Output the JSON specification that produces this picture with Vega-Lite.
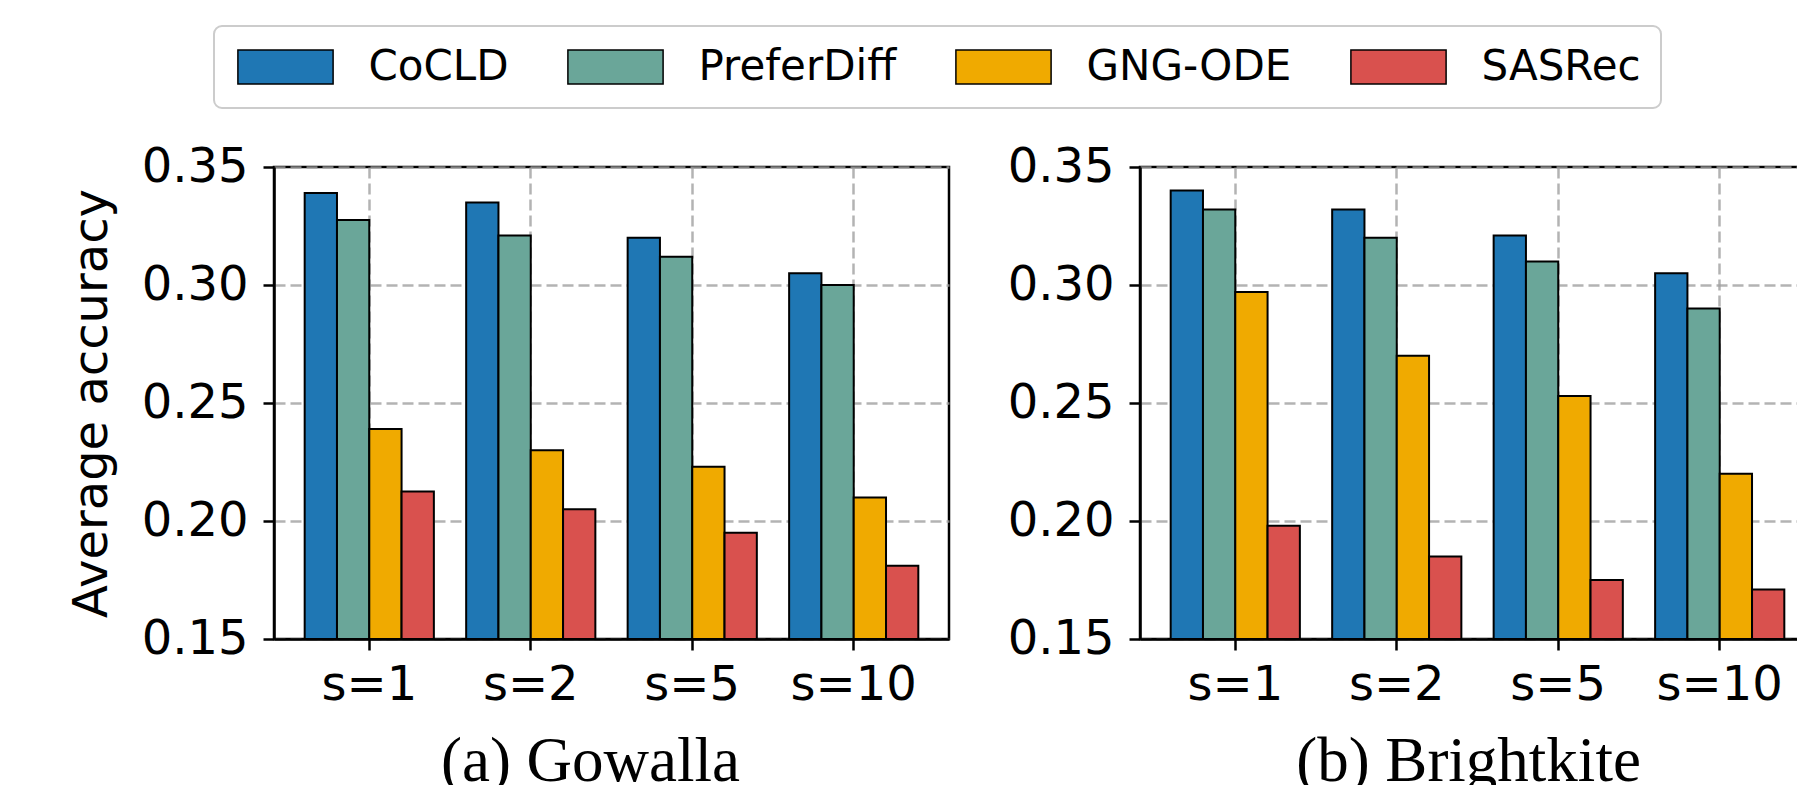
{
  "$schema": "https://vega.github.io/schema/vega-lite/v6.json",
  "background": "white",
  "padding": {"left": 66, "top": 25, "right": 0, "bottom": 0},
  "datasets": {
    "gowalla": [
      {"s": "s=1", "model": "CoCLD", "value": 0.339},
      {"s": "s=1", "model": "PreferDiff", "value": 0.3275},
      {"s": "s=1", "model": "GNG-ODE", "value": 0.239},
      {"s": "s=1", "model": "SASRec", "value": 0.2125},
      {"s": "s=2", "model": "CoCLD", "value": 0.335},
      {"s": "s=2", "model": "PreferDiff", "value": 0.321},
      {"s": "s=2", "model": "GNG-ODE", "value": 0.230},
      {"s": "s=2", "model": "SASRec", "value": 0.205},
      {"s": "s=5", "model": "CoCLD", "value": 0.320},
      {"s": "s=5", "model": "PreferDiff", "value": 0.312},
      {"s": "s=5", "model": "GNG-ODE", "value": 0.223},
      {"s": "s=5", "model": "SASRec", "value": 0.195},
      {"s": "s=10", "model": "CoCLD", "value": 0.305},
      {"s": "s=10", "model": "PreferDiff", "value": 0.300},
      {"s": "s=10", "model": "GNG-ODE", "value": 0.210},
      {"s": "s=10", "model": "SASRec", "value": 0.181}
    ],
    "brightkite": [
      {"s": "s=1", "model": "CoCLD", "value": 0.340},
      {"s": "s=1", "model": "PreferDiff", "value": 0.332},
      {"s": "s=1", "model": "GNG-ODE", "value": 0.297},
      {"s": "s=1", "model": "SASRec", "value": 0.198},
      {"s": "s=2", "model": "CoCLD", "value": 0.332},
      {"s": "s=2", "model": "PreferDiff", "value": 0.320},
      {"s": "s=2", "model": "GNG-ODE", "value": 0.270},
      {"s": "s=2", "model": "SASRec", "value": 0.185},
      {"s": "s=5", "model": "CoCLD", "value": 0.321},
      {"s": "s=5", "model": "PreferDiff", "value": 0.310},
      {"s": "s=5", "model": "GNG-ODE", "value": 0.253},
      {"s": "s=5", "model": "SASRec", "value": 0.175},
      {"s": "s=10", "model": "CoCLD", "value": 0.305},
      {"s": "s=10", "model": "PreferDiff", "value": 0.290},
      {"s": "s=10", "model": "GNG-ODE", "value": 0.220},
      {"s": "s=10", "model": "SASRec", "value": 0.171}
    ]
  },
  "spacing": 54,
  "hconcat": [
    {
      "data": {"name": "gowalla"},
      "width": 675,
      "height": 472,
      "mark": {"type": "bar", "stroke": "black", "strokeWidth": 2},
      "encoding": {
        "x": {
          "field": "s", "type": "nominal", "sort": ["s=1", "s=2", "s=5", "s=10"],
          "scale": {"paddingInner": 0.2, "paddingOuter": 0.19},
          "axis": {"title": "(a) Gowalla", "labelAngle": 0, "bandPosition": 0.5, "grid": true, "titleX": 316, "titleY": 141}
        },
        "xOffset": {
          "field": "model", "type": "nominal", "sort": ["CoCLD", "PreferDiff", "GNG-ODE", "SASRec"],
          "scale": {"paddingInner": 0, "paddingOuter": 0}
        },
        "y": {
          "field": "value", "type": "quantitative",
          "scale": {"domain": [0.15, 0.35], "zero": false, "nice": false},
          "axis": {"title": "Average accuracy", "values": [0.15, 0.2, 0.25, 0.3, 0.35], "format": ".2f"}
        },
        "y2": {"datum": 0.15},
        "color": {
          "field": "model", "type": "nominal", "sort": ["CoCLD", "PreferDiff", "GNG-ODE", "SASRec"],
          "scale": {"domain": ["CoCLD", "PreferDiff", "GNG-ODE", "SASRec"], "range": ["#1f77b4", "#6aa699", "#f0aa00", "#d9514e"]},
          "legend": {
            "orient": "none", "legendX": -60, "legendY": -141,
            "direction": "horizontal", "columns": 4, "title": null,
            "symbolType": "M-2.8,-1H2.8V1H-2.8Z", "symbolSize": 1156, "symbolOffset": 30.5,
            "symbolStrokeColor": "black", "symbolStrokeWidth": 1.5, "symbolOpacity": 1,
            "labelFont": "DejaVu Sans", "labelFontSize": 42, "labelColor": "black", "labelOffset": 62, "labelLimit": 0,
            "columnPadding": 55, "padding": 20, "strokeColor": "#cccccc", "cornerRadius": 8, "fillColor": "white"
          }
        }
      }
    },
    {
      "data": {"name": "brightkite"},
      "width": 675,
      "height": 472,
      "mark": {"type": "bar", "stroke": "black", "strokeWidth": 2},
      "encoding": {
        "x": {
          "field": "s", "type": "nominal", "sort": ["s=1", "s=2", "s=5", "s=10"],
          "scale": {"paddingInner": 0.2, "paddingOuter": 0.19},
          "axis": {"title": "(b) Brightkite", "labelAngle": 0, "bandPosition": 0.5, "grid": true, "titleX": 328, "titleY": 141}
        },
        "xOffset": {
          "field": "model", "type": "nominal", "sort": ["CoCLD", "PreferDiff", "GNG-ODE", "SASRec"],
          "scale": {"paddingInner": 0, "paddingOuter": 0}
        },
        "y": {
          "field": "value", "type": "quantitative",
          "scale": {"domain": [0.15, 0.35], "zero": false, "nice": false},
          "axis": {"title": null, "values": [0.15, 0.2, 0.25, 0.3, 0.35], "format": ".2f"}
        },
        "y2": {"datum": 0.15},
        "color": {
          "field": "model", "type": "nominal", "sort": ["CoCLD", "PreferDiff", "GNG-ODE", "SASRec"],
          "scale": {"domain": ["CoCLD", "PreferDiff", "GNG-ODE", "SASRec"], "range": ["#1f77b4", "#6aa699", "#f0aa00", "#d9514e"]}
        }
      }
    }
  ],
  "resolve": {"scale": {"x": "independent", "y": "independent", "xOffset": "independent", "color": "shared"}},
  "config": {
    "font": "DejaVu Sans",
    "view": {"stroke": "black", "strokeWidth": 2.5},
    "legend": {"strokeWidth": 2},
    "axis": {
      "labelFont": "DejaVu Sans", "labelFontSize": 48, "labelColor": "black",
      "tickColor": "black", "tickSize": 11, "tickWidth": 2.5,
      "domainColor": "black", "domainWidth": 2.5,
      "gridColor": "#a0a0a0", "gridDash": [11, 5], "gridWidth": 2.5, "gridOpacity": 0.8,
      "zindex": 1,
      "titleFont": "DejaVu Sans", "titleFontSize": 48, "titleFontWeight": "normal", "titleColor": "black"
    },
    "axisY": {"labelPadding": 15, "titlePadding": 25, "grid": true},
    "axisX": {"labelPadding": 11, "titleFont": "Liberation Serif", "titleFontSize": 63, "titleAlign": "center", "titleBaseline": "alphabetic"}
  }
}
